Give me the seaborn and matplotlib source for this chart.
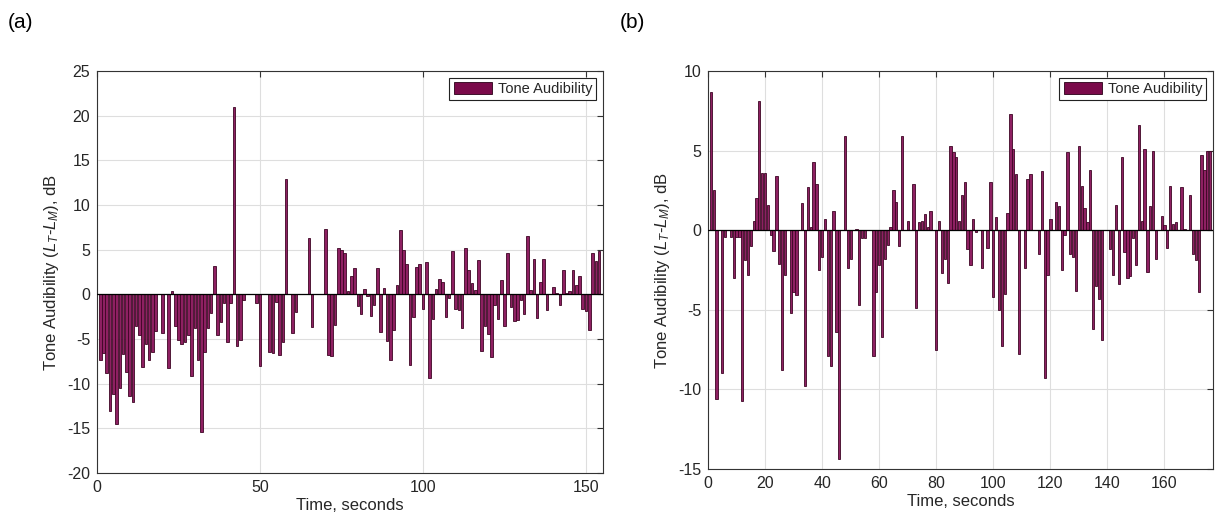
import numpy as np
import pandas as pd
import matplotlib
matplotlib.use("Agg")
import matplotlib.pyplot as plt
from matplotlib.patches import Patch
import seaborn as sns

# ---------------- data ----------------
time_a = list(range(1, 155))
tone_a = [
    -7.3, -6.6, -8.8, -13.1, -11.2, -14.5, -10.5, -6.7, -8.7, -11.4,
    -12.1, -3.5, -4.5, -8.1, -5.6, -7.3, -6.5, -4.1, 0.0, -4.3,
    0.0, -8.3, 0.4, -3.5, -5.1, -5.6, -5.3, -4.6, -9.1, -3.8,
    -7.4, -15.4, -6.5, -3.8, -2.1, 3.2, -4.5, -3.1, -1.0, -5.3,
    -1.0, 21.0, -5.8, -5.1, -0.6, 0.0, 0.0, 0.0, -1.0, -8.0,
    0.0, 0.0, -6.5, -6.6, -0.9, -6.8, -5.3, 12.9, 0.0, -4.3,
    -2.0, 0.0, 0.0, 0.0, 6.3, -3.7, 0.0, 0.0, 0.0, 7.3,
    -6.8, -6.9, -3.4, 5.2, 5.0, 4.6, 0.4, 2.1, 2.9, -1.3,
    -2.2, 0.6, -0.2, -2.4, -1.2, 2.9, -4.2, 0.7, -5.2, -7.3,
    -4.0, 1.0, 7.2, 5.0, 3.4, -7.9, -2.5, 3.1, 3.4, -1.6,
    3.6, -9.4, -2.8, 0.6, 1.7, 1.4, -2.5, -0.4, 4.9, -1.6,
    -1.8, -3.8, 5.2, 2.7, 1.3, 0.5, 3.8, -6.3, -3.5, -4.4,
    -7.0, -1.2, -2.8, 1.6, -3.5, 4.6, -1.4, -3.0, -2.9, -0.6,
    -2.2, 6.5, 0.5, 3.9, -2.6, 1.4, 3.9, -1.8, 0.0, 0.8,
    0.2, -1.2, 2.7, 0.2, 0.4, 2.7, 1.0, 2.1, -1.6, -1.9,
    -4.0, 4.6, 3.7, 4.9,
]

time_b = list(range(1, 177))
tone_b = [
    8.7, 2.5, -10.6, 0.0, -9.0, -0.4, 0.0, -0.4, -3.0, -0.4,
    -0.4, -10.7, -1.9, -2.8, -1.0, 0.6, 2.0, 8.1, 3.6, 3.6,
    1.6, -0.3, -1.3, 3.4, -2.1, -8.8, -2.8, 0.0, -5.2, -3.9,
    -4.1, 0.0, 1.7, -9.8, 2.7, 0.2, 4.3, 2.9, -2.5, -1.7,
    0.7, -7.9, -8.5, 1.2, -6.4, -14.4, 0.0, 5.9, -2.4, -1.8,
    0.0, 0.1, -4.7, -0.5, -0.5, 0.0, 0.0, -7.9, -3.9, -2.2,
    -6.7, -1.8, -0.9, 0.2, 2.5, 1.8, -1.0, 5.9, 0.0, 0.6,
    0.0, 2.9, -4.9, 0.5, 0.6, 1.0, 0.2, 1.2, 0.0, -7.5,
    0.6, -2.7, -1.8, -3.3, 5.3, 4.9, 4.6, 0.6, 2.2, 3.0,
    -1.2, -2.2, 0.7, -0.1, 0.0, -2.4, 0.0, -1.1, 3.0, -4.2,
    0.8, -5.0, -7.3, -4.0, 1.1, 7.3, 5.1, 3.5, -7.8, 0.0,
    -2.4, 3.2, 3.5, 0.0, 0.0, -1.5, 3.7, -9.3, -2.8, 0.7,
    0.0, 1.8, 1.5, -2.5, -0.3, 4.9, -1.5, -1.7, -3.8, 5.3,
    2.8, 1.4, 0.5, 3.8, -6.2, -3.5, -4.3, -6.9, 0.0, 0.0,
    -1.2, -2.8, 1.6, -3.4, 4.6, -1.4, -3.0, -2.9, -0.5, -2.2,
    6.6, 0.6, 5.1, -2.6, 1.5, 5.0, -1.8, 0.0, 0.9, 0.3,
    -1.1, 2.8, 0.4, 0.5, 0.0, 2.7, 0.1, 0.0, 2.2, -1.5,
    -1.9, -3.9, 4.7, 3.8, 5.0, 5.0,
]

xticks_a = [0, 50, 100, 150]
yticks_a = [-20, -15, -10, -5, 0, 5, 10, 15, 20, 25]
xticks_b = [0, 20, 40, 60, 80, 100, 120, 140, 160]
yticks_b = [-15, -10, -5, 0, 5, 10]
series_label = "Tone Audibility"
xlabel = "Time, seconds"
ylabel = r"Tone Audibility ($L_T$-$L_M$), dB"

# ---------------- style ----------------
sns.set_theme(style="white")
plt.rcParams["font.family"] = ["Liberation Sans", "DejaVu Sans"]
plt.rcParams["mathtext.fontset"] = "custom"
plt.rcParams["mathtext.rm"] = "Liberation Sans"
plt.rcParams["mathtext.it"] = "Liberation Sans:italic"
plt.rcParams["mathtext.bf"] = "Liberation Sans:bold"
plt.rcParams["axes.unicode_minus"] = False

BAR_FACE = "#8e2062"
BAR_EDGE = "#3d0524"
TXT = "#262626"

fig = plt.figure(figsize=(12.16, 5.22), dpi=100)
axA = fig.add_axes([97 / 1216, 49 / 522, 506 / 1216, 402 / 522])
axB = fig.add_axes([708 / 1216, 53 / 522, 505 / 1216, 398 / 522])

dfa = pd.DataFrame({"t": time_a, "v": tone_a})
dfb = pd.DataFrame({"t": time_b, "v": tone_b})


def draw(ax, df, xlim, ylim, xt, yt):
    sns.barplot(data=df, x="t", y="v", native_scale=True, color=BAR_FACE,
                saturation=1, width=0.8, edgecolor=BAR_EDGE, linewidth=0.6,
                errorbar=None, ax=ax, zorder=3)
    ax.axhline(0, color="black", lw=0.9, zorder=4)
    ax.set_xlim(*xlim)
    ax.set_ylim(*ylim)
    ax.set_xticks(xt)
    ax.set_yticks(yt)
    ax.grid(True, color="#dedede", lw=0.8, zorder=0)
    ax.set_axisbelow(True)
    for s in ax.spines.values():
        s.set_color("#333333")
        s.set_linewidth(0.8)
    ax.tick_params(direction="in", top=True, right=True, length=4,
                   width=0.8, color="#333333", labelsize=11.5,
                   labelcolor=TXT, pad=5)
    ax.set_xlabel(xlabel, fontsize=12, color=TXT, labelpad=2)
    ax.set_ylabel(ylabel, fontsize=12, color=TXT, labelpad=4)
    handle = Patch(facecolor="#7a0a4a", edgecolor="#2a0018", linewidth=0.6)
    leg = ax.legend([handle], [series_label], loc="upper right",
                    fancybox=False, framealpha=1, edgecolor="#222222",
                    fontsize=10.5, borderaxespad=0.45, handlelength=2.6,
                    handleheight=0.9, borderpad=0.3, handletextpad=0.4)
    leg.get_frame().set_linewidth(0.8)


draw(axA, dfa, (0, 155.2), (-20, 25), xticks_a, yticks_a)
draw(axB, dfb, (0, 177), (-15, 10), xticks_b, yticks_b)

fig.text(8 / 1216, 1 - 22 / 522, "(a)", fontsize=15, color="black", va="center")
fig.text(620 / 1216, 1 - 22 / 522, "(b)", fontsize=15, color="black", va="center")

fig.savefig("out.png", dpi=100)
